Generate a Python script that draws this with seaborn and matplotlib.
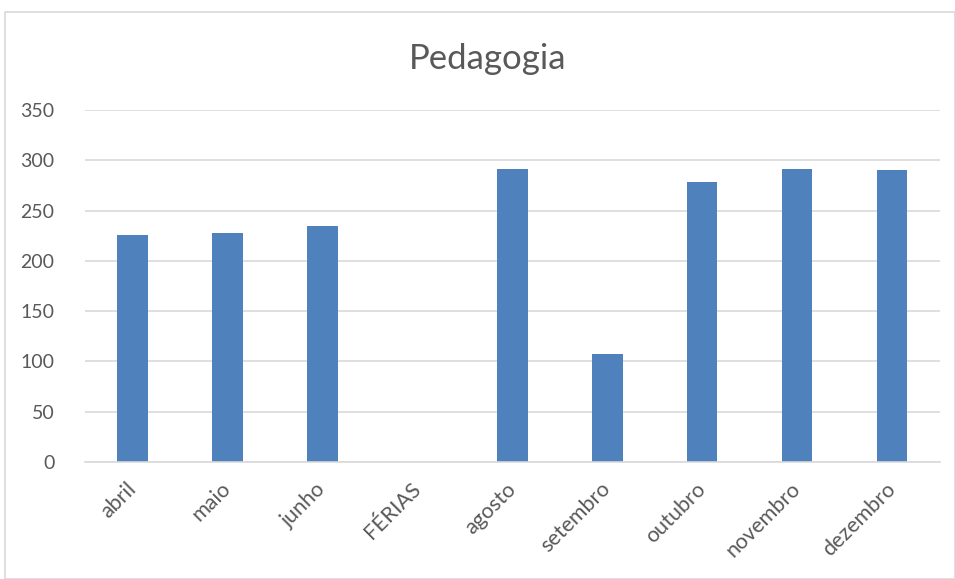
import pandas as pd
import seaborn as sns
import matplotlib.pyplot as plt
import matplotlib.transforms as mtransforms
from matplotlib.patches import Rectangle

meses = ["abril", "maio", "junho", "FÉRIAS", "agosto", "setembro", "outubro", "novembro", "dezembro"]
valores = [226, 228, 235, 0, 291, 107, 278, 291, 290]

df = pd.DataFrame({"mes": meses, "valor": valores})

sns.set_theme(style="white")
plt.rcParams["font.family"] = ["Lato", "DejaVu Sans"]

fig = plt.figure(figsize=(9.55, 5.79), dpi=100)
ax = fig.add_axes([0.089, 0.202, 0.895, 0.608])

sns.barplot(data=df, x="mes", y="valor", color="#4F81BD", saturation=1,
            width=0.32, linewidth=0, ax=ax)

ax.set_ylim(0, 350)
ax.set_yticks(range(0, 351, 50))
ax.yaxis.grid(True, color="#D9D9D9", linewidth=1.2)
ax.set_axisbelow(True)
ax.set_xlabel("")
ax.set_ylabel("")
for s in ["left", "right", "top"]:
    ax.spines[s].set_visible(False)
ax.spines["bottom"].set_color("#D9D9D9")
ax.spines["bottom"].set_linewidth(1.2)
ax.tick_params(axis="y", length=0, labelsize=14, colors="#595959", pad=22)
ax.tick_params(axis="x", length=0, labelsize=15.5, colors="#595959", pad=12)
shift = mtransforms.ScaledTranslation(-7 / 100, 0, fig.dpi_scale_trans)
for lab in ax.get_xticklabels():
    lab.set_rotation(45)
    lab.set_ha("right")
    lab.set_rotation_mode("anchor")
    lab.set_transform(lab.get_transform() + shift)

fig.suptitle("Pedagogia", x=0.511, y=0.925, fontsize=25, color="#595959")

fig.patches.append(Rectangle((0.005, 0.0), 0.995, 0.98, transform=fig.transFigure,
                             fill=False, edgecolor="#D9D9D9", linewidth=1.2))

fig.savefig("out.png", dpi=100)
